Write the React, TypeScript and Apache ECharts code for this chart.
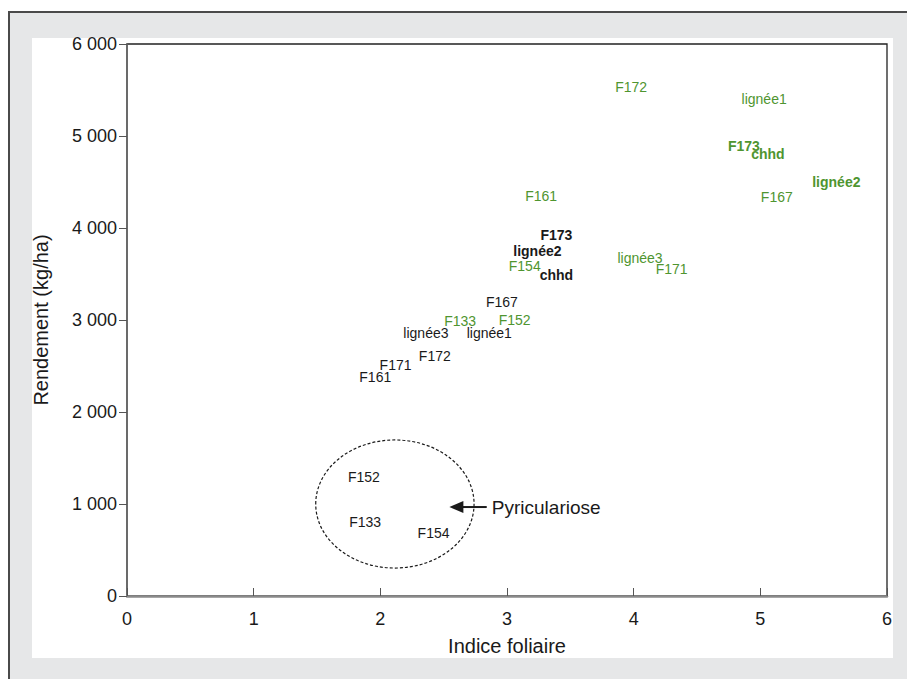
import React, { useEffect, useRef } from "react";
import * as echarts from "echarts";

// [indice foliaire, rendement, label]
const blackNormal: [number, number, string][] = [
  [1.96, 2380, "F161"],
  [2.12, 2510, "F171"],
  [2.43, 2610, "F172"],
  [2.36, 2860, "lignée3"],
  [2.86, 2860, "lignée1"],
  [2.96, 3200, "F167"],
];
const blackBold: [number, number, string][] = [
  [3.39, 3920, "F173"],
  [3.24, 3750, "lignée2"],
  [3.39, 3490, "chhd"],
];
const greenNormal: [number, number, string][] = [
  [2.63, 2990, "F133"],
  [3.06, 3000, "F152"],
  [3.14, 3590, "F154"],
  [3.27, 4350, "F161"],
  [3.98, 5530, "F172"],
  [5.03, 5400, "lignée1"],
  [5.13, 4340, "F167"],
  [4.05, 3670, "lignée3"],
  [4.3, 3550, "F171"],
];
const greenBold: [number, number, string][] = [
  [4.87, 4890, "F173"],
  [5.06, 4800, "chhd"],
  [5.6, 4500, "lignée2"],
];
const blastPoints: [number, number, string][] = [
  [1.87, 1290, "F152"],
  [1.88, 800, "F133"],
  [2.42, 685, "F154"],
];
// [cx, cy, rx, ry]
const blastEllipse = [[2.115, 1000, 0.625, 696]];
// [tail x, tip x, y, text x]
const blastArrow = [[2.84, 2.545, 967, 2.88]];
const blastText = "Pyriculariose";

const xTicks = ["0", "1", "2", "3", "4", "5", "6"];
const yTicks = ["0", "1 000", "2 000", "3 000", "4 000", "5 000", "6 000"];

const FONT = "'Liberation Sans', Arial, Helvetica, sans-serif";
const GREEN = "#4f9530";
const BLACK = "#1a1a1a";

function textSeries(data: [number, number, string][], color: string, bold: boolean) {
  return {
    type: "scatter",
    data: data.map((d) => ({ value: [d[0], d[1]], name: d[2] })),
    symbolSize: 1,
    itemStyle: { color: "rgba(0,0,0,0)", opacity: 1 },
    label: {
      show: true,
      position: "inside",
      formatter: (p: any) => p.name,
      color,
      opacity: 1,
      textBorderWidth: 0,
      fontSize: 14,
      fontWeight: bold ? "bold" : "normal",
      fontFamily: FONT,
    },
    emphasis: { disabled: true },
    z: 5,
  };
}

export default function App() {
  const ref = useRef<HTMLDivElement>(null);
  useEffect(() => {
    if (!ref.current) return;
    const chart = echarts.init(ref.current, undefined, { renderer: "svg" });
    chart.setOption({
      animation: false,
      grid: {
        left: 127,
        right: 20,
        top: 44,
        bottom: 83,
        show: true,
        borderColor: "#222",
        borderWidth: 1.3,
        backgroundColor: "transparent",
      },
      xAxis: {
        type: "value",
        min: 0,
        max: 6,
        interval: 1,
        name: "Indice foliaire",
        nameLocation: "middle",
        nameGap: 40,
        nameTextStyle: { fontSize: 20, color: BLACK, fontFamily: FONT },
        axisLine: { lineStyle: { color: "#8a8a8a", width: 2.5 } },
        axisTick: { inside: true, length: 8, lineStyle: { color: "#555", width: 1 } },
        axisLabel: {
          margin: 14,
          fontSize: 18,
          color: BLACK,
          fontFamily: FONT,
          formatter: (v: number) => xTicks[Math.round(v)] ?? "",
        },
        splitLine: { show: false },
      },
      yAxis: {
        type: "value",
        min: 0,
        max: 6000,
        interval: 1000,
        name: "Rendement (kg/ha)",
        nameLocation: "middle",
        nameGap: 76,
        nameTextStyle: { fontSize: 20, color: BLACK, fontFamily: FONT },
        axisLine: { lineStyle: { color: "#6a6a6a", width: 1.5 } },
        axisTick: { inside: false, length: 8, lineStyle: { color: "#555", width: 1 } },
        axisLabel: {
          margin: 10,
          fontSize: 18,
          color: BLACK,
          fontFamily: FONT,
          formatter: (v: number) => yTicks[Math.round(v / 1000)] ?? "",
        },
        splitLine: { show: false },
      },
      series: [
        textSeries(blackNormal, BLACK, false),
        textSeries(blackBold, BLACK, true),
        textSeries(greenNormal, GREEN, false),
        textSeries(greenBold, GREEN, true),
        textSeries(blastPoints, BLACK, false),
        {
          type: "custom",
          data: blastEllipse,
          z: 4,
          silent: true,
          renderItem: (params: any, api: any) => {
            const c = api.coord([api.value(0), api.value(1)]);
            const s = api.size([api.value(2), api.value(3)]);
            return {
              type: "ellipse",
              shape: { cx: c[0], cy: c[1], rx: s[0], ry: s[1] },
              style: { fill: "none", stroke: BLACK, lineWidth: 1.2, lineDash: [3, 2] },
            };
          },
        },
        {
          type: "custom",
          data: blastArrow,
          z: 4,
          silent: true,
          renderItem: (params: any, api: any) => {
            const tail = api.coord([api.value(0), api.value(2)]);
            const tip = api.coord([api.value(1), api.value(2)]);
            const txt = api.coord([api.value(3), api.value(2)]);
            return {
              type: "group",
              children: [
                {
                  type: "line",
                  shape: { x1: tip[0] + 12, y1: tip[1], x2: tail[0], y2: tail[1] },
                  style: { stroke: BLACK, lineWidth: 2 },
                },
                {
                  type: "polygon",
                  shape: {
                    points: [
                      [tip[0], tip[1]],
                      [tip[0] + 14, tip[1] - 6],
                      [tip[0] + 14, tip[1] + 6],
                    ],
                  },
                  style: { fill: BLACK },
                },
                {
                  type: "text",
                  x: txt[0],
                  y: txt[1],
                  style: {
                    text: blastText,
                    fontSize: 19,
                    fontFamily: FONT,
                    fill: BLACK,
                    align: "left",
                    verticalAlign: "middle",
                  },
                },
              ],
            };
          },
        },
      ],
    });
    return () => chart.dispose();
  }, []);

  return (
    <div style={{ position: "fixed", left: 0, top: 0, width: 907, height: 679, background: "#fff" }}>
      <div
        style={{
          position: "absolute",
          left: 8,
          top: 11,
          width: 899,
          height: 668,
          background: "#e6e7e8",
          borderLeft: "2px solid #4a4a4a",
          borderTop: "2px solid #4a4a4a",
          boxSizing: "border-box",
        }}
      />
      <div
        style={{
          position: "absolute",
          left: 32,
          top: 38,
          width: 861,
          height: 620,
          background: "#fff",
        }}
      />
      <div ref={ref} style={{ position: "absolute", left: 0, top: 0, width: 907, height: 679 }} />
    </div>
  );
}
